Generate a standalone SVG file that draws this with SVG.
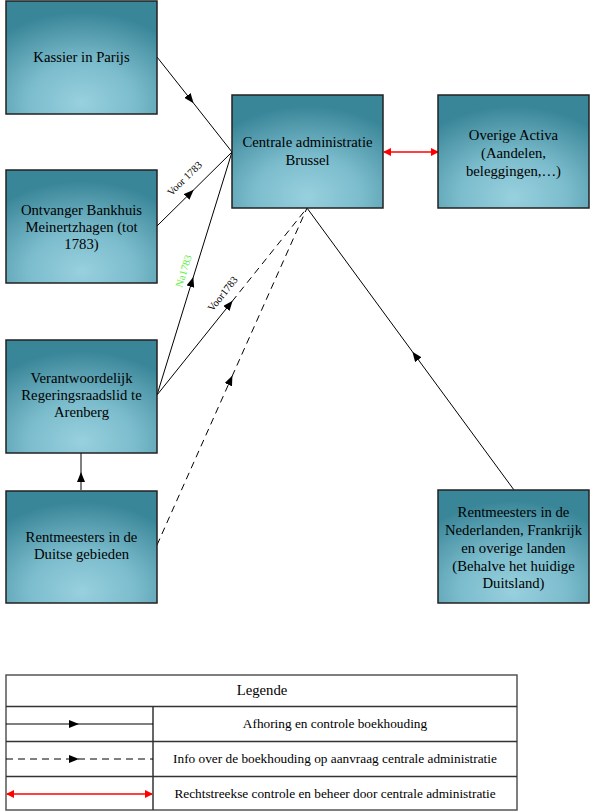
<svg xmlns="http://www.w3.org/2000/svg" width="594" height="812" viewBox="0 0 594 812" font-family="'Liberation Serif', 'DejaVu Serif', serif">
<defs>
<radialGradient id="g" cx="0.5" cy="0.9" r="0.8" fx="0.5" fy="0.9">
<stop offset="0" stop-color="#98D0DE"/>
<stop offset="0.45" stop-color="#7BBCCC"/>
<stop offset="1" stop-color="#3A8699"/>
</radialGradient>
<marker id="ab" markerWidth="10" markerHeight="8" refX="9" refY="4" orient="auto" markerUnits="userSpaceOnUse">
<path d="M0,0 L10,4 L0,8 Z" fill="#000"/>
</marker>
<marker id="ar" markerWidth="8" markerHeight="8" refX="7" refY="4" orient="auto-start-reverse" markerUnits="userSpaceOnUse">
<path d="M0,0 L8,4 L0,8 Z" fill="#FF0000"/>
</marker>
</defs>
<style>
.box{fill:url(#g);stroke:#222;stroke-width:1.5}
text{font-family:'Liberation Serif','DejaVu Serif',serif}
.t{font-size:14.7px;fill:#000;text-anchor:middle}
.lt{font-size:13.3px;fill:#000;text-anchor:middle}
.ll{font-size:10.5px;text-anchor:middle}
.s{stroke:#000;stroke-width:1;fill:none}
.d{stroke:#000;stroke-width:1;fill:none;stroke-dasharray:7,5}
.r{stroke:#FF0000;stroke-width:1.5;fill:none}
.tb{stroke:#333;stroke-width:1.5;fill:none}
</style>

<g id="connectors">
<path class="s" d="M157,57 L193,102.5 L232,152" marker-mid="url(#ab)"/>
<path class="s" d="M157,226 L193,190.5 L232,152" marker-mid="url(#ab)"/>
<path class="s" d="M157,395 L193,278 L232,152" marker-mid="url(#ab)"/>
<path class="s" d="M157,395 L232,301.5" marker-end="url(#ab)"/>
<path class="d" d="M232,301.5 L307,208"/>
<path class="d" d="M157,545 L232,376.5" marker-end="url(#ab)"/>
<path class="d" d="M232,376.5 L307,208"/>
<path class="s" d="M514,490 L413,352.5" marker-end="url(#ab)"/>
<path class="s" d="M413,352.5 L307,208"/>
<path class="s" d="M81,490 L81,473" marker-end="url(#ab)"/>
<path class="s" d="M81,473 L81,453"/>
<path class="r" d="M384,152 L438,152" marker-start="url(#ar)" marker-end="url(#ar)"/>
<text class="ll" fill="#000" transform="translate(187,181) rotate(-44.6)">Voor 1783</text>
<text class="ll" fill="#5CF03A" transform="translate(187,272) rotate(-72.8)">Na1783</text>
<text class="ll" fill="#000" transform="translate(225.5,296) rotate(-51.3)">Voor1783</text>
</g>

<g id="kassier">
<rect class="box" x="6" y="1" width="151" height="113"/>
<text class="t" x="81.5" y="62">Kassier in Parijs</text>
</g>
<g id="ontvanger">
<rect class="box" x="6" y="170" width="151" height="113"/>
<text class="t" x="81.5" y="215">Ontvanger Bankhuis</text>
<text class="t" x="81.5" y="232">Meinertzhagen (tot</text>
<text class="t" x="81.5" y="249">1783)</text>
</g>
<g id="verantwoordelijk">
<rect class="box" x="6" y="340" width="151" height="113"/>
<text class="t" x="81.5" y="383">Verantwoordelijk</text>
<text class="t" x="81.5" y="400">Regeringsraadslid te</text>
<text class="t" x="81.5" y="417">Arenberg</text>
</g>
<g id="rentmeesters-duitse">
<rect class="box" x="6" y="491" width="151" height="112"/>
<text class="t" x="81.5" y="542">Rentmeesters in de</text>
<text class="t" x="81.5" y="559">Duitse gebieden</text>
</g>
<g id="centrale">
<rect class="box" x="232" y="95" width="151" height="113"/>
<text class="t" x="307.5" y="147">Centrale administratie</text>
<text class="t" x="307.5" y="165">Brussel</text>
</g>
<g id="overige">
<rect class="box" x="438" y="95" width="151" height="113"/>
<text class="t" x="513.5" y="140">Overige Activa</text>
<text class="t" x="513.5" y="158">(Aandelen,</text>
<text class="t" x="513.5" y="176">beleggingen,…)</text>
</g>
<g id="rentmeesters-nl">
<rect class="box" x="438" y="490" width="151" height="113"/>
<text class="t" x="513.5" y="517">Rentmeesters in de</text>
<text class="t" x="513.5" y="535">Nederlanden, Frankrijk</text>
<text class="t" x="513.5" y="553">en overige landen</text>
<text class="t" x="513.5" y="571">(Behalve het huidige</text>
<text class="t" x="513.5" y="588">Duitsland)</text>
</g>

<g id="legende">
<rect x="6" y="675" width="511" height="135" fill="#fff" stroke="#555" stroke-width="1.5"/>
<line class="tb" x1="6" y1="706.5" x2="517" y2="706.5"/>
<line class="tb" x1="6" y1="741.5" x2="517" y2="741.5"/>
<line class="tb" x1="6" y1="776.5" x2="517" y2="776.5"/>
<line class="tb" x1="153" y1="706.5" x2="153" y2="810"/>
<text class="t" x="262" y="695">Legende</text>
<path class="s" d="M6,724 L78,724 L153,724" marker-mid="url(#ab)"/>
<path class="d" d="M6,759 L78,759 L153,759" marker-mid="url(#ab)"/>
<path class="r" d="M7,794 L152,794" marker-start="url(#ar)" marker-end="url(#ar)"/>
<text class="lt" x="335" y="728">Afhoring en controle boekhouding</text>
<text class="lt" x="335" y="763">Info over de boekhouding op aanvraag centrale administratie</text>
<text class="lt" x="335" y="798">Rechtstreekse controle en beheer door centrale administratie</text>
</g>
</svg>
